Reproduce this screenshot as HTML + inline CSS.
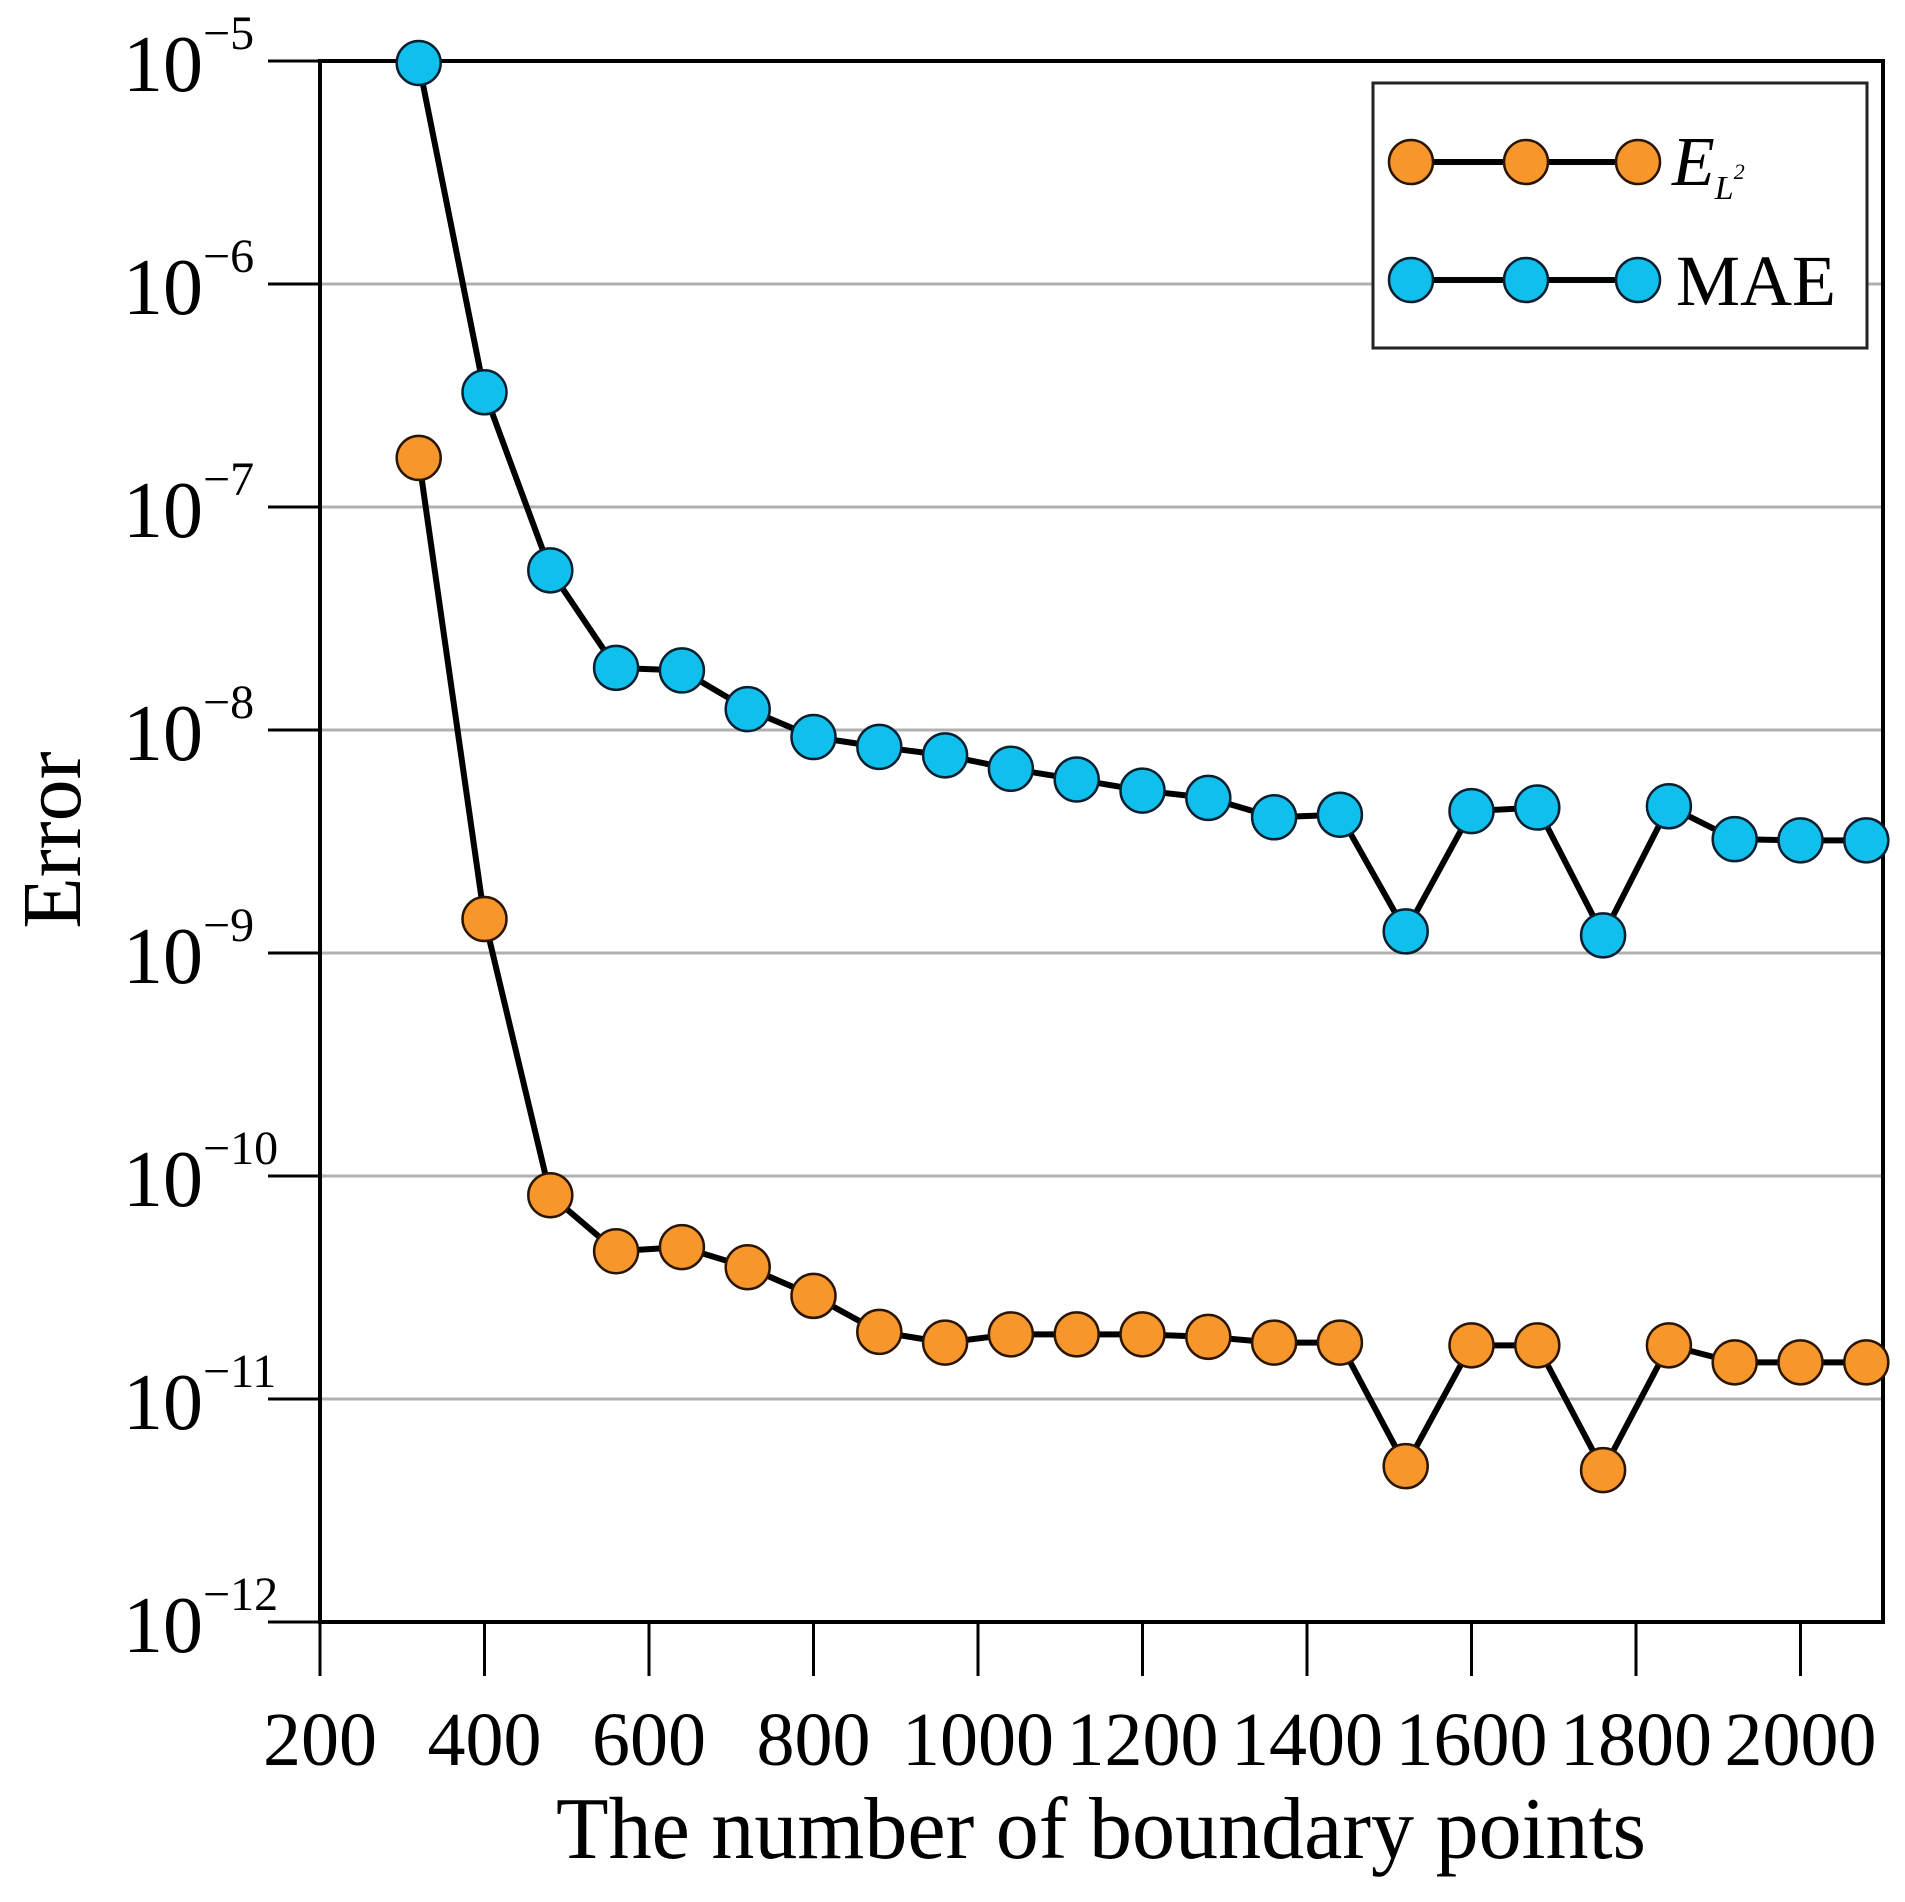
<!DOCTYPE html>
<html><head><meta charset="utf-8">
<style>
html,body{margin:0;padding:0;background:#fff;}
svg{display:block;font-family:"Liberation Serif","DejaVu Serif",serif;}
</style></head>
<body>
<svg id="chart" width="1905" height="1902" viewBox="0 0 1905 1902" xmlns="http://www.w3.org/2000/svg">
<g id="grid"></g>
<g id="axes"></g>
<g id="series"></g>
<text x="1101" y="1858" font-size="88" text-anchor="middle" textLength="1090" lengthAdjust="spacingAndGlyphs">The number of boundary points</text>
<text transform="translate(80,840) rotate(-90)" font-size="84" text-anchor="middle">Error</text>
<g>
<rect x="1373" y="83" width="494" height="265" fill="#fff" stroke="#222" stroke-width="3"/>
<g>
<line x1="1411" y1="162" x2="1638" y2="162" stroke="#000" stroke-width="6"/>
<circle cx="1411" cy="162" r="22" fill="#f7962a" stroke="#2a1500" stroke-width="2.5"/>
<circle cx="1526" cy="162" r="22" fill="#f7962a" stroke="#2a1500" stroke-width="2.5"/>
<circle cx="1638" cy="162" r="22" fill="#f7962a" stroke="#2a1500" stroke-width="2.5"/>
<text x="1672" y="185" font-size="70" font-style="italic">E<tspan font-size="34" dy="14">L</tspan><tspan font-size="22" dy="-20">2</tspan></text>
</g>
<g>
<line x1="1411" y1="280" x2="1638" y2="280" stroke="#000" stroke-width="6"/>
<circle cx="1411" cy="280" r="22" fill="#10c0ec" stroke="#0a2030" stroke-width="2.5"/>
<circle cx="1526" cy="280" r="22" fill="#10c0ec" stroke="#0a2030" stroke-width="2.5"/>
<circle cx="1638" cy="280" r="22" fill="#10c0ec" stroke="#0a2030" stroke-width="2.5"/>
<text x="1676" y="305" font-size="72">MAE</text>
</g>
</g>
</svg>
<script>
const xValues = [320,400,480,560,640,720,800,880,960,1040,1120,1200,1280,1360,1440,1520,1600,1680,1760,1840,1920,2000,2080];
const maeValues = [9.8e-6,3.27e-7,5.2e-8,1.9e-8,1.85e-8,1.24e-8,9.3e-9,8.4e-9,7.7e-9,6.7e-9,6.0e-9,5.35e-9,4.96e-9,4.06e-9,4.17e-9,1.25e-9,4.33e-9,4.49e-9,1.2e-9,4.55e-9,3.24e-9,3.2e-9,3.2e-9];
const el2Values = [1.66e-7,1.42e-9,8.2e-11,4.6e-11,4.8e-11,3.9e-11,2.9e-11,2.0e-11,1.79e-11,1.95e-11,1.95e-11,1.95e-11,1.9e-11,1.79e-11,1.79e-11,5.0e-12,1.74e-11,1.74e-11,4.8e-12,1.74e-11,1.46e-11,1.46e-11,1.46e-11];
const xTicks = [200,400,600,800,1000,1200,1400,1600,1800,2000];
const yExponents = [-5,-6,-7,-8,-9,-10,-11,-12];

const L=320,R=1883,T=61,B=1622;
const NS='http://www.w3.org/2000/svg';
function xs(v){return L+(v-200)*164.5/200;}
function ys(v){return T+(-5-Math.log10(v))*(B-T)/7;}
function mk(tag,attrs,parent){const e=document.createElementNS(NS,tag);for(const k in attrs)e.setAttribute(k,attrs[k]);parent.appendChild(e);return e;}
const grid=document.getElementById('grid'),axes=document.getElementById('axes'),series=document.getElementById('series');

yExponents.forEach(function(ex){
  const y=ys(Math.pow(10,ex));
  if(ex>-12&&ex<-5){
    const g=mk('line',{x1:L,x2:R,y1:y,y2:y,stroke:'#b0b0b0','stroke-width':3},grid);
    
    
  }
  const tk=mk('line',{x1:268,x2:L,y1:y,y2:y,stroke:'#000','stroke-width':3},axes);
  
  
  const t=mk('text',{x:203,y:y+30,'font-size':80,'text-anchor':'end'},axes);
  
  
  t.textContent='10';
  const s=mk('text',{x:203,y:y-12,'font-size':48,'text-anchor':'start'},axes);
  
  
  s.textContent='\u2212'+(-ex);
});
xTicks.forEach(function(v){
  const x=xs(v);
  const tk=mk('line',{x1:x,x2:x,y1:B,y2:1676,stroke:'#000','stroke-width':3},axes);
  
  
  const t=mk('text',{x:x,y:1765,'font-size':76,'text-anchor':'middle'},axes);
  
  
  t.textContent=v;
});
const frame=mk('rect',{x:L,y:T,width:R-L,height:B-T,fill:'none',stroke:'#000','stroke-width':4},axes);



function drawSeries(vals,fill,stroke,name){
  const pts=xValues.map(function(x,i){return xs(x)+','+ys(vals[i]);}).join(' ');
  const pl=mk('polyline',{points:pts,fill:'none',stroke:'#000','stroke-width':6,'stroke-linejoin':'round'},series);
  
  
  xValues.forEach(function(x,i){
    const c=mk('circle',{cx:xs(x),cy:ys(vals[i]),r:22,fill:fill,stroke:stroke,'stroke-width':2.5},series);
    
    
  });
}
drawSeries(el2Values,'#f7962a','#2a1500','el2');
drawSeries(maeValues,'#10c0ec','#0a2030','mae');
</script>
</body></html>
